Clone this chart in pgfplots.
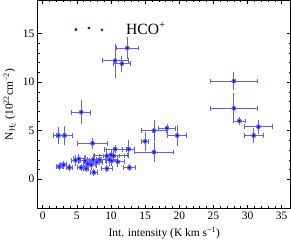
\documentclass[border=0pt]{standalone}
\usepackage{fontspec}
\setmainfont{Liberation Serif}
\usepackage{pgfplots}
\usepackage{pgfplotstable}
\pgfplotsset{compat=1.18}
\definecolor{ebar}{RGB}{95,95,255}
\pgfplotstableread{
x y ex ey
12.4 13.5 1.6 0.85
10.6 12.2 1.9 1.5
11.6 11.9 1.25 0.57
5.65 6.9 1.4 1.0
28.0 10.1 3.5 0.68
28.0 7.3 3.5 1.3
28.8 6.0 0.9 0.2
31.6 5.4 2.05 0.45
30.9 4.5 1.35 0.55
2.3 4.5 0.8 0.66
3.2 4.5 1.15 0.7
7.3 3.7 2.2 0.32
16.3 5.0 1.8 0.84
18.2 5.25 1.3 0.2
19.7 4.5 1.4 0.86
15.0 3.9 0.55 0.7
16.3 2.8 2.85 0.77
12.6 3.1 0.9 0.7
10.6 3.1 1.6 0.2
9.4 2.4 1.8 0.55
10.0 2.5 2.4 0.3
12.7 1.2 0.85 0.15
9.4 1.1 0.75 0.15
7.5 0.7 0.55 0.15
6.35 1.1 0.4 0.15
5.6 1.2 0.5 0.15
3.9 1.2 0.45 0.15
3.05 1.5 0.4 0.15
2.45 1.3 0.5 0.15
4.8 1.95 0.6 0.3
5.3 2.1 0.8 0.3
6.2 1.9 0.7 0.3
6.6 1.6 0.6 0.3
7.4 2.0 0.9 0.35
7.9 1.75 0.9 0.3
8.3 2.0 1.0 0.3
7.1 1.5 0.6 0.3
9.8 2.0 1.2 0.4
10.4 2.4 1.5 0.35
10.1 1.9 0.9 0.3
11.0 1.8 1.0 0.3
}\datatable
\begin{document}
\begin{tikzpicture}
\begin{axis}[
  scale only axis, width=243pt, height=200pt,
  xmin=-0.7, xmax=36.3, ymin=-3, ymax=18.4,
  xtick={0,5,...,35}, ytick={0,5,10,15},
  minor x tick num=4, minor y tick num=4,
  tick align=inside,
  major tick length=3.5pt, minor tick length=2pt,
  tick style={black, line width=0.5pt},
  axis line style={line width=0.8pt},
  /pgf/number format/assume math mode=true,
  ticklabel style={font=\fontsize{11}{13}\selectfont},
  xlabel={Int. intensity (K km s\textsuperscript{−1})},
  ylabel={N\textsubscript{H\textsubscript{2}} (10\textsuperscript{22}cm\textsuperscript{−2})},
  label style={font=\fontsize{11}{13}\selectfont},
  legend style={draw=none, fill=none, at={(0.132,0.915)}, anchor=north west,
    font=\fontsize{15}{17}\selectfont,
    /tikz/every odd column/.append style={column sep=20pt}},
  legend image code/.code={
    \fill[blue] (0pt,-0.5pt) circle (1.1pt);
    \fill[blue] (12.5pt,1pt) circle (1.1pt);
    \fill[blue] (25pt,-0.8pt) circle (1.1pt);
  },
]
\addplot[ebar, only marks, mark=none, forget plot,
  error bars/.cd, x dir=both, x explicit,
  error bar style={ebar, line width=0.8pt},
  error mark=|,
  error mark options={ebar, mark size=2.3pt, line width=0.8pt}]
  table[x=x, y=y, x error=ex] {\datatable};
\addplot[ebar, only marks, mark=none, forget plot,
  error bars/.cd, y dir=both, y explicit,
  error bar style={ebar, line width=0.8pt},
  error mark=-,
  error mark options={ebar, mark size=2.3pt, line width=0.8pt}]
  table[x=x, y=y, y error=ey] {\datatable};
\addplot[blue, only marks, mark=*, mark size=0.8pt, mark options={draw=blue, fill=blue}]
  table[x=x, y=y] {\datatable};
\addlegendentry{HCO\textsuperscript{+}}
\end{axis}
\end{tikzpicture}
\end{document}
